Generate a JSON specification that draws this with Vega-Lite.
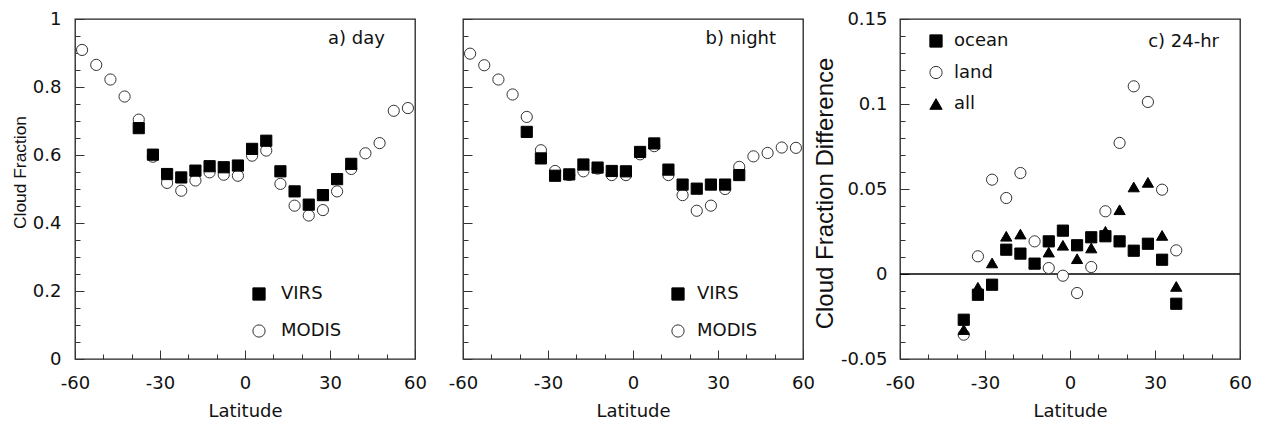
{
  "$schema": "https://vega.github.io/schema/vega-lite/v6.json",
  "padding": {"left": 10, "top": 9, "right": 5, "bottom": 2},
  "datasets": {
    "day": [
      {"lat": -57.5, "cf": 0.909, "sensor": "MODIS"}, {"lat": -52.5, "cf": 0.865, "sensor": "MODIS"},
      {"lat": -47.5, "cf": 0.822, "sensor": "MODIS"}, {"lat": -42.5, "cf": 0.772, "sensor": "MODIS"},
      {"lat": -37.5, "cf": 0.704, "sensor": "MODIS"}, {"lat": -32.5, "cf": 0.595, "sensor": "MODIS"},
      {"lat": -27.5, "cf": 0.518, "sensor": "MODIS"}, {"lat": -22.5, "cf": 0.495, "sensor": "MODIS"},
      {"lat": -17.5, "cf": 0.525, "sensor": "MODIS"}, {"lat": -12.5, "cf": 0.549, "sensor": "MODIS"},
      {"lat": -7.5, "cf": 0.542, "sensor": "MODIS"}, {"lat": -2.5, "cf": 0.539, "sensor": "MODIS"},
      {"lat": 2.5, "cf": 0.598, "sensor": "MODIS"}, {"lat": 7.5, "cf": 0.613, "sensor": "MODIS"},
      {"lat": 12.5, "cf": 0.515, "sensor": "MODIS"}, {"lat": 17.5, "cf": 0.451, "sensor": "MODIS"},
      {"lat": 22.5, "cf": 0.422, "sensor": "MODIS"}, {"lat": 27.5, "cf": 0.438, "sensor": "MODIS"},
      {"lat": 32.5, "cf": 0.493, "sensor": "MODIS"}, {"lat": 37.5, "cf": 0.559, "sensor": "MODIS"},
      {"lat": 42.5, "cf": 0.605, "sensor": "MODIS"}, {"lat": 47.5, "cf": 0.635, "sensor": "MODIS"},
      {"lat": 52.5, "cf": 0.730, "sensor": "MODIS"}, {"lat": 57.5, "cf": 0.738, "sensor": "MODIS"},
      {"lat": -37.5, "cf": 0.679, "sensor": "VIRS"}, {"lat": -32.5, "cf": 0.601, "sensor": "VIRS"},
      {"lat": -27.5, "cf": 0.544, "sensor": "VIRS"}, {"lat": -22.5, "cf": 0.534, "sensor": "VIRS"},
      {"lat": -17.5, "cf": 0.554, "sensor": "VIRS"}, {"lat": -12.5, "cf": 0.567, "sensor": "VIRS"},
      {"lat": -7.5, "cf": 0.564, "sensor": "VIRS"}, {"lat": -2.5, "cf": 0.569, "sensor": "VIRS"},
      {"lat": 2.5, "cf": 0.618, "sensor": "VIRS"}, {"lat": 7.5, "cf": 0.642, "sensor": "VIRS"},
      {"lat": 12.5, "cf": 0.552, "sensor": "VIRS"}, {"lat": 17.5, "cf": 0.493, "sensor": "VIRS"},
      {"lat": 22.5, "cf": 0.454, "sensor": "VIRS"}, {"lat": 27.5, "cf": 0.482, "sensor": "VIRS"},
      {"lat": 32.5, "cf": 0.529, "sensor": "VIRS"}, {"lat": 37.5, "cf": 0.574, "sensor": "VIRS"}
    ],
    "night": [
      {"lat": -57.5, "cf": 0.898, "sensor": "MODIS"}, {"lat": -52.5, "cf": 0.864, "sensor": "MODIS"},
      {"lat": -47.5, "cf": 0.822, "sensor": "MODIS"}, {"lat": -42.5, "cf": 0.778, "sensor": "MODIS"},
      {"lat": -37.5, "cf": 0.712, "sensor": "MODIS"}, {"lat": -32.5, "cf": 0.614, "sensor": "MODIS"},
      {"lat": -27.5, "cf": 0.553, "sensor": "MODIS"}, {"lat": -22.5, "cf": 0.541, "sensor": "MODIS"},
      {"lat": -17.5, "cf": 0.552, "sensor": "MODIS"}, {"lat": -12.5, "cf": 0.560, "sensor": "MODIS"},
      {"lat": -7.5, "cf": 0.541, "sensor": "MODIS"}, {"lat": -2.5, "cf": 0.541, "sensor": "MODIS"},
      {"lat": 2.5, "cf": 0.602, "sensor": "MODIS"}, {"lat": 7.5, "cf": 0.626, "sensor": "MODIS"},
      {"lat": 12.5, "cf": 0.541, "sensor": "MODIS"}, {"lat": 17.5, "cf": 0.482, "sensor": "MODIS"},
      {"lat": 22.5, "cf": 0.436, "sensor": "MODIS"}, {"lat": 27.5, "cf": 0.451, "sensor": "MODIS"},
      {"lat": 32.5, "cf": 0.500, "sensor": "MODIS"}, {"lat": 37.5, "cf": 0.565, "sensor": "MODIS"},
      {"lat": 42.5, "cf": 0.596, "sensor": "MODIS"}, {"lat": 47.5, "cf": 0.606, "sensor": "MODIS"},
      {"lat": 52.5, "cf": 0.622, "sensor": "MODIS"}, {"lat": 57.5, "cf": 0.621, "sensor": "MODIS"},
      {"lat": -37.5, "cf": 0.668, "sensor": "VIRS"}, {"lat": -32.5, "cf": 0.590, "sensor": "VIRS"},
      {"lat": -27.5, "cf": 0.539, "sensor": "VIRS"}, {"lat": -22.5, "cf": 0.543, "sensor": "VIRS"},
      {"lat": -17.5, "cf": 0.572, "sensor": "VIRS"}, {"lat": -12.5, "cf": 0.563, "sensor": "VIRS"},
      {"lat": -7.5, "cf": 0.553, "sensor": "VIRS"}, {"lat": -2.5, "cf": 0.552, "sensor": "VIRS"},
      {"lat": 2.5, "cf": 0.609, "sensor": "VIRS"}, {"lat": 7.5, "cf": 0.634, "sensor": "VIRS"},
      {"lat": 12.5, "cf": 0.557, "sensor": "VIRS"}, {"lat": 17.5, "cf": 0.513, "sensor": "VIRS"},
      {"lat": 22.5, "cf": 0.501, "sensor": "VIRS"}, {"lat": 27.5, "cf": 0.513, "sensor": "VIRS"},
      {"lat": 32.5, "cf": 0.513, "sensor": "VIRS"}, {"lat": 37.5, "cf": 0.541, "sensor": "VIRS"}
    ],
    "diff24": [
      {"lat": -37.5, "d": -0.0357, "type": "land"}, {"lat": -32.5, "d": 0.0104, "type": "land"},
      {"lat": -27.5, "d": 0.0555, "type": "land"}, {"lat": -22.5, "d": 0.0447, "type": "land"},
      {"lat": -17.5, "d": 0.0594, "type": "land"}, {"lat": -12.5, "d": 0.0192, "type": "land"},
      {"lat": -7.5, "d": 0.0035, "type": "land"}, {"lat": -2.5, "d": -0.0010, "type": "land"},
      {"lat": 2.5, "d": -0.0112, "type": "land"}, {"lat": 7.5, "d": 0.0041, "type": "land"},
      {"lat": 12.5, "d": 0.0369, "type": "land"}, {"lat": 17.5, "d": 0.0771, "type": "land"},
      {"lat": 22.5, "d": 0.1104, "type": "land"}, {"lat": 27.5, "d": 0.1012, "type": "land"},
      {"lat": 32.5, "d": 0.0496, "type": "land"}, {"lat": 37.5, "d": 0.0139, "type": "land"},
      {"lat": -37.5, "d": -0.0327, "type": "all"}, {"lat": -32.5, "d": -0.0078, "type": "all"},
      {"lat": -27.5, "d": 0.0065, "type": "all"}, {"lat": -22.5, "d": 0.0222, "type": "all"},
      {"lat": -17.5, "d": 0.0235, "type": "all"}, {"lat": -12.5, "d": 0.0065, "type": "all"},
      {"lat": -7.5, "d": 0.0129, "type": "all"}, {"lat": -2.5, "d": 0.0169, "type": "all"},
      {"lat": 2.5, "d": 0.0090, "type": "all"}, {"lat": 7.5, "d": 0.0153, "type": "all"},
      {"lat": 12.5, "d": 0.0251, "type": "all"}, {"lat": 17.5, "d": 0.0378, "type": "all"},
      {"lat": 22.5, "d": 0.0512, "type": "all"}, {"lat": 27.5, "d": 0.0539, "type": "all"},
      {"lat": 32.5, "d": 0.0227, "type": "all"}, {"lat": 37.5, "d": -0.0073, "type": "all"},
      {"lat": -37.5, "d": -0.0269, "type": "ocean"}, {"lat": -32.5, "d": -0.0122, "type": "ocean"},
      {"lat": -27.5, "d": -0.0063, "type": "ocean"}, {"lat": -22.5, "d": 0.0143, "type": "ocean"},
      {"lat": -17.5, "d": 0.0120, "type": "ocean"}, {"lat": -12.5, "d": 0.0061, "type": "ocean"},
      {"lat": -7.5, "d": 0.0192, "type": "ocean"}, {"lat": -2.5, "d": 0.0255, "type": "ocean"},
      {"lat": 2.5, "d": 0.0169, "type": "ocean"}, {"lat": 7.5, "d": 0.0216, "type": "ocean"},
      {"lat": 12.5, "d": 0.0222, "type": "ocean"}, {"lat": 17.5, "d": 0.0192, "type": "ocean"},
      {"lat": 22.5, "d": 0.0137, "type": "ocean"}, {"lat": 27.5, "d": 0.0178, "type": "ocean"},
      {"lat": 32.5, "d": 0.0084, "type": "ocean"}, {"lat": 37.5, "d": -0.0175, "type": "ocean"}
    ]
  },
  "spacing": -4,
  "hconcat": [
    {
      "spacing": 19,
      "hconcat": [
        {
          "width": 340, "height": 340,
          "layer": [
            {
              "data": {"name": "day"},
              "mark": {"type": "point", "filled": true, "size": 125, "strokeWidth": 1, "opacity": 1},
              "encoding": {
                "x": {"field": "lat", "type": "quantitative", "scale": {"domain": [-60, 60], "nice": false}, "title": "Latitude",
                  "axis": {"values": [-60, -50, -40, -30, -20, -10, 0, 10, 20, 30, 40, 50, 60], "tickCount": 100, "labelOverlap": false,
                    "tickSize": {"condition": {"test": "datum.value % 30 === 0", "value": -9}, "value": -5},
                    "labelExpr": "datum.value % 30 === 0 ? (datum.value < 0 ? '-' + (-datum.value) : '' + datum.value) : ''",
                    "labelPadding": 24, "titlePadding": 6}},
                "y": {"field": "cf", "type": "quantitative", "scale": {"domain": [0, 1], "nice": false}, "title": "Cloud Fraction",
                  "axis": {"values": [0, 0.05, 0.1, 0.15, 0.2, 0.25, 0.3, 0.35, 0.4, 0.45, 0.5, 0.55, 0.6, 0.65, 0.7, 0.75, 0.8, 0.85, 0.9, 0.95, 1], "tickCount": 100, "labelOverlap": false,
                    "tickSize": {"condition": {"test": "round(datum.value * 100) % 20 === 0", "value": -9}, "value": -5},
                    "labelExpr": "round(datum.value * 100) % 20 === 0 ? '' + datum.value : ''",
                    "labelPadding": 23, "titlePadding": 3, "titleFont": "Liberation Sans", "titleFontSize": 17.4, "titleY": 153}},
                "shape": {"field": "sensor", "type": "nominal", "scale": {"domain": ["VIRS", "MODIS"], "range": ["square", "circle"]},
                  "legend": {"orient": "none", "legendX": 175, "legendY": 266, "title": null, "rowPadding": 19, "labelOffset": 13}},
                "fill": {"field": "sensor", "type": "nominal", "scale": {"domain": ["VIRS", "MODIS"], "range": ["black", "white"]},
                  "legend": {"orient": "none", "legendX": 175, "legendY": 266, "title": null, "rowPadding": 19, "labelOffset": 13}},
                "stroke": {"field": "sensor", "type": "nominal", "scale": {"domain": ["VIRS", "MODIS"], "range": ["black", "#333333"]},
                  "legend": {"orient": "none", "legendX": 175, "legendY": 266, "title": null, "rowPadding": 19, "labelOffset": 13}}
              }
            },
            {
              "data": {"values": [{}]},
              "mark": {"type": "text", "align": "right", "baseline": "alphabetic", "fontSize": 18, "font": "DejaVu Sans", "fill": "#111111", "fontWeight": "normal"},
              "encoding": {"x": {"datum": 49.4}, "y": {"datum": 0.927}, "text": {"value": "a) day"}}
            }
          ]
        },
        {
          "width": 340, "height": 340,
          "layer": [
            {
              "data": {"name": "night"},
              "mark": {"type": "point", "filled": true, "size": 125, "strokeWidth": 1, "opacity": 1},
              "encoding": {
                "x": {"field": "lat", "type": "quantitative", "scale": {"domain": [-60, 60], "nice": false}, "title": "Latitude",
                  "axis": {"values": [-60, -50, -40, -30, -20, -10, 0, 10, 20, 30, 40, 50, 60], "tickCount": 100, "labelOverlap": false,
                    "tickSize": {"condition": {"test": "datum.value % 30 === 0", "value": -9}, "value": -5},
                    "labelExpr": "datum.value % 30 === 0 ? (datum.value < 0 ? '-' + (-datum.value) : '' + datum.value) : ''",
                    "labelPadding": 24, "titlePadding": 6}},
                "y": {"field": "cf", "type": "quantitative", "scale": {"domain": [0, 1], "nice": false}, "title": null,
                  "axis": {"values": [0, 0.05, 0.1, 0.15, 0.2, 0.25, 0.3, 0.35, 0.4, 0.45, 0.5, 0.55, 0.6, 0.65, 0.7, 0.75, 0.8, 0.85, 0.9, 0.95, 1], "tickCount": 100,
                    "tickSize": {"condition": {"test": "round(datum.value * 100) % 20 === 0", "value": -9}, "value": -5},
                    "labels": false}},
                "shape": {"field": "sensor", "type": "nominal", "scale": {"domain": ["VIRS", "MODIS"], "range": ["square", "circle"]},
                  "legend": {"orient": "none", "legendX": 206, "legendY": 266, "title": null, "rowPadding": 19, "labelOffset": 10}},
                "fill": {"field": "sensor", "type": "nominal", "scale": {"domain": ["VIRS", "MODIS"], "range": ["black", "white"]},
                  "legend": {"orient": "none", "legendX": 206, "legendY": 266, "title": null, "rowPadding": 19, "labelOffset": 10}},
                "stroke": {"field": "sensor", "type": "nominal", "scale": {"domain": ["VIRS", "MODIS"], "range": ["black", "#333333"]},
                  "legend": {"orient": "none", "legendX": 206, "legendY": 266, "title": null, "rowPadding": 19, "labelOffset": 10}}
              }
            },
            {
              "data": {"values": [{}]},
              "mark": {"type": "text", "align": "right", "baseline": "alphabetic", "fontSize": 18, "font": "DejaVu Sans", "fill": "#111111", "fontWeight": "normal"},
              "encoding": {"x": {"datum": 50.5}, "y": {"datum": 0.927}, "text": {"value": "b) night"}}
            }
          ]
        }
      ],
      "resolve": {"scale": {"shape": "independent", "fill": "independent", "stroke": "independent"}}
    },
    {
      "width": 340, "height": 340,
      "layer": [
        {
          "data": {"values": [{}]},
          "mark": {"type": "rule", "color": "black", "strokeWidth": 1.3},
          "encoding": {"y": {"datum": 0}}
        },
        {
          "data": {"name": "diff24"},
          "mark": {"type": "point", "filled": true, "size": 125, "strokeWidth": 1, "opacity": 1},
          "encoding": {
            "x": {"field": "lat", "type": "quantitative", "scale": {"domain": [-60, 60], "nice": false}, "title": "Latitude",
              "axis": {"values": [-60, -50, -40, -30, -20, -10, 0, 10, 20, 30, 40, 50, 60], "tickCount": 100, "labelOverlap": false,
                "tickSize": {"condition": {"test": "datum.value % 30 === 0", "value": -9}, "value": -5},
                "labelExpr": "datum.value % 30 === 0 ? (datum.value < 0 ? '-' + (-datum.value) : '' + datum.value) : ''",
                "labelPadding": 24, "titlePadding": 6}},
            "y": {"field": "d", "type": "quantitative", "scale": {"domain": [-0.05, 0.15], "nice": false}, "title": "Cloud Fraction Difference",
              "axis": {"values": [-0.05, -0.04, -0.03, -0.02, -0.01, 0, 0.01, 0.02, 0.03, 0.04, 0.05, 0.06, 0.07, 0.08, 0.09, 0.1, 0.11, 0.12, 0.13, 0.14, 0.15], "tickCount": 100, "labelOverlap": false,
                "tickSize": {"condition": {"test": "round(datum.value * 100) % 5 === 0", "value": -9}, "value": -5},
                "labelExpr": "round(datum.value * 100) % 5 === 0 ? (datum.value < 0 ? '-' + (-datum.value) : '' + datum.value) : ''",
                "labelPadding": 22, "titlePadding": 3, "titleFont": "Liberation Sans", "titleFontSize": 24, "titleY": 174}},
            "shape": {"field": "type", "type": "nominal", "scale": {"domain": ["ocean", "land", "all"], "range": ["square", "circle", "triangle-up"]},
              "legend": {"orient": "none", "legendX": 27, "legendY": 13, "title": null, "rowPadding": 13.5, "labelOffset": 9}},
            "fill": {"field": "type", "type": "nominal", "scale": {"domain": ["ocean", "land", "all"], "range": ["black", "white", "black"]},
              "legend": {"orient": "none", "legendX": 27, "legendY": 13, "title": null, "rowPadding": 13.5, "labelOffset": 9}},
            "stroke": {"field": "type", "type": "nominal", "scale": {"domain": ["ocean", "land", "all"], "range": ["black", "#333333", "black"]},
              "legend": {"orient": "none", "legendX": 27, "legendY": 13, "title": null, "rowPadding": 13.5, "labelOffset": 9}}
          }
        },
        {
          "data": {"values": [{}]},
          "mark": {"type": "text", "align": "right", "baseline": "alphabetic", "fontSize": 18, "font": "DejaVu Sans", "fill": "#111111", "fontWeight": "normal"},
          "encoding": {"x": {"datum": 52.6}, "y": {"datum": 0.1337}, "text": {"value": "c) 24-hr"}}
        }
      ]
    }
  ],
  "resolve": {"scale": {"shape": "independent", "fill": "independent", "stroke": "independent"}},
  "config": {
    "font": "DejaVu Sans",
    "view": {"stroke": "#222222", "strokeWidth": 1.3},
    "axis": {"domain": false, "grid": false, "labelFont": "DejaVu Sans", "labelFontSize": 18, "labelColor": "#111111",
      "titleFont": "DejaVu Sans", "titleFontSize": 18, "titleFontWeight": "normal", "titleColor": "#111111",
      "tickColor": "#333333", "tickWidth": 1, "labelFlush": false, "labelOverlap": false},
    "legend": {"labelFont": "DejaVu Sans", "labelFontSize": 18, "labelColor": "#111111", "symbolSize": 150, "symbolStrokeWidth": 1,
      "padding": 0, "direction": "vertical"}
  }
}
